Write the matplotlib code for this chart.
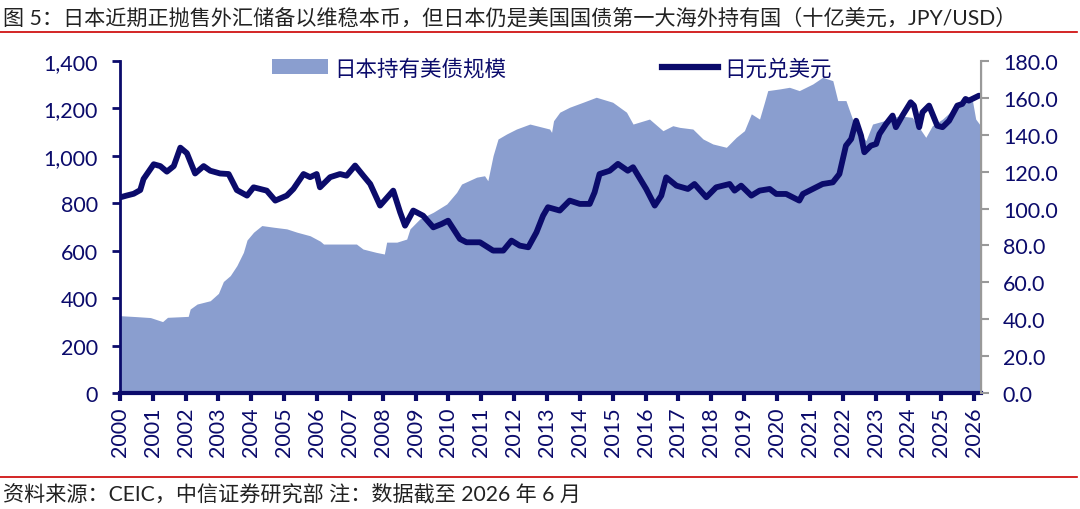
import matplotlib
matplotlib.use('Agg')
from matplotlib import pyplot as plt
from matplotlib.ticker import FuncFormatter, MultipleLocator
from matplotlib.lines import Line2D
from matplotlib.patches import Patch
import numpy as np

plt.rcParams['font.family'] = ['Lato', 'Noto Sans CJK SC', 'DejaVu Sans']

# Japan holdings of US Treasuries (bn USD)
hold_t = [2000.00, 2000.50, 2000.93, 2001.30, 2001.45, 2002.08, 2002.14, 2002.35, 2002.75, 2003.00,
          2003.15, 2003.36, 2003.56, 2003.76, 2003.87, 2004.07, 2004.32, 2004.68, 2005.08, 2005.39,
          2005.79, 2006.10, 2006.20, 2006.80, 2007.20, 2007.40, 2007.80, 2008.05, 2008.12, 2008.43,
          2008.73, 2008.83, 2009.13, 2009.54, 2009.95, 2010.25, 2010.40, 2010.86, 2011.10, 2011.20,
          2011.36, 2011.51, 2011.77, 2012.07, 2012.48, 2012.88, 2013.08, 2013.14, 2013.20, 2013.39,
          2013.69, 2014.10, 2014.50, 2015.00, 2015.42, 2015.62, 2016.12, 2016.53, 2016.83, 2017.04,
          2017.44, 2017.75, 2018.05, 2018.46, 2018.76, 2019.01, 2019.22, 2019.47, 2019.62, 2019.72,
          2020.08, 2020.38, 2020.68, 2021.09, 2021.39, 2021.70, 2021.85, 2022.10, 2022.30, 2022.51,
          2022.71, 2022.91, 2023.32, 2023.72, 2024.12, 2024.53, 2024.73, 2025.04, 2025.44, 2025.74,
          2025.95, 2026.05, 2026.20]
hold_v = [326, 322, 318, 301, 319, 323, 354, 375, 389, 420,
          470, 495, 537, 593, 645, 678, 706, 699, 692, 678,
          663, 640, 628, 628, 628, 607, 593, 586, 636, 636,
          649, 692, 734, 762, 797, 846, 881, 910, 916, 895,
          1001, 1071, 1092, 1113, 1134, 1120, 1113, 1099, 1148, 1184,
          1205, 1226, 1247, 1226, 1184, 1134, 1155, 1106, 1127, 1120,
          1113, 1071, 1050, 1036, 1078, 1106, 1177, 1155, 1226, 1275,
          1282, 1289, 1275, 1303, 1331, 1317, 1233, 1233, 1155, 1099,
          1064, 1134, 1150, 1169, 1162, 1078, 1127, 1155, 1205, 1240,
          1233, 1155, 1127]

# USD/JPY
fx_t = [2000.00, 2000.20, 2000.42, 2000.62, 2000.72, 2001.03, 2001.23, 2001.43, 2001.64, 2001.84,
        2002.04, 2002.29, 2002.55, 2002.75, 2003.05, 2003.31, 2003.56, 2003.87, 2004.07, 2004.27,
        2004.47, 2004.73, 2005.08, 2005.28, 2005.59, 2005.79, 2005.99, 2006.09, 2006.40, 2006.70,
        2006.90, 2007.16, 2007.41, 2007.62, 2007.92, 2008.32, 2008.53, 2008.68, 2008.93, 2009.23,
        2009.54, 2009.79, 2009.99, 2010.35, 2010.55, 2010.96, 2011.36, 2011.67, 2011.92, 2012.17,
        2012.43, 2012.68, 2012.88, 2013.03, 2013.39, 2013.69, 2014.00, 2014.30, 2014.45, 2014.60,
        2014.91, 2015.16, 2015.46, 2015.62, 2016.02, 2016.28, 2016.48, 2016.63, 2016.94, 2017.29,
        2017.49, 2017.85, 2018.15, 2018.56, 2018.71, 2018.91, 2019.22, 2019.47, 2019.78, 2019.98,
        2020.28, 2020.68, 2020.79, 2021.09, 2021.39, 2021.70, 2021.90, 2022.10, 2022.26, 2022.41,
        2022.56, 2022.66, 2022.86, 2023.02, 2023.12, 2023.32, 2023.52, 2023.62, 2023.82, 2024.07,
        2024.17, 2024.33, 2024.43, 2024.63, 2024.88, 2025.04, 2025.24, 2025.49, 2025.64, 2025.74,
        2025.84, 2026.15]
fx_v = [106.0, 107.0, 108.0, 110.0, 116.0, 124.0, 123.0, 120.0, 123.0, 133.0,
        130.0, 119.0, 123.0, 120.5, 119.0, 118.7, 110.0, 107.0, 111.5, 110.6,
        109.7, 104.3, 107.0, 110.6, 118.7, 117.0, 118.7, 111.5, 117.0, 118.7,
        117.8, 123.3, 117.8, 113.3, 101.6, 109.7, 98.0, 90.7, 98.9, 96.1,
        89.8, 91.6, 93.4, 83.5, 81.7, 81.7, 77.2, 77.2, 82.6, 79.9,
        79.0, 87.1, 96.1, 100.7, 98.9, 104.3, 102.5, 102.5, 108.8, 118.7,
        120.5, 124.2, 120.5, 122.4, 110.6, 101.6, 107.0, 116.9, 112.4, 110.6,
        113.3, 106.1, 111.5, 113.3, 109.7, 112.4, 107.0, 109.7, 110.6, 107.9,
        107.9, 104.3, 107.9, 110.6, 113.3, 114.2, 118.7, 134.1, 137.7, 147.6,
        139.5, 130.5, 134.1, 135.0, 140.4, 145.8, 150.4, 144.1, 150.4, 157.6,
        155.8, 144.1, 152.2, 155.8, 144.9, 144.1, 147.6, 155.8, 156.7, 159.4,
        158.5, 161.2]

years = list(range(2000, 2027))

title = '图 5：日本近期正抛售外汇储备以维稳本币，但日本仍是美国国债第一大海外持有国（十亿美元，JPY/USD）'
source = '资料来源：CEIC，中信证券研究部 注：数据截至 2026 年 6 月'

navy = '#0b0b6b'
fill_c = '#8a9ecf'

fig = plt.figure(figsize=(10.8, 5.1), dpi=100)
ax = fig.add_axes([0.111, 0.2275, 0.797, 0.651])
ax2 = ax.twinx()

ax.fill_between(hold_t, 0, hold_v, color=fill_c, lw=0)
ax2.plot(fx_t, fx_v, color=navy, lw=4.2, solid_capstyle='round', solid_joinstyle='round')

ax.set_xlim(2000, 2026.2)
ax.set_ylim(0, 1400)
ax2.set_ylim(0, 180)
ax.yaxis.set_major_locator(MultipleLocator(200))
ax2.yaxis.set_major_locator(MultipleLocator(20))
ax.yaxis.set_major_formatter(FuncFormatter(lambda v, p: f'{v:,.0f}'))
ax2.yaxis.set_major_formatter(FuncFormatter(lambda v, p: f'{v:.1f}'))
ax.set_xticks(years)
ax.set_xticklabels([str(y) for y in years], rotation=90)

for a in (ax, ax2):
    a.spines['top'].set_visible(False)
ax.spines['left'].set_color(navy)
ax.spines['left'].set_linewidth(2)
ax.spines['bottom'].set_color(navy)
ax.spines['bottom'].set_linewidth(3)
ax2.spines['right'].set_color('#999999')
ax2.spines['right'].set_linewidth(1.5)
ax2.spines['left'].set_visible(False)
ax2.spines['bottom'].set_visible(False)

ax.tick_params(axis='y', colors=navy, labelsize=15.5, length=6, width=2, pad=10)
ax.tick_params(axis='x', colors=navy, labelsize=15.5, length=6, width=3, pad=4)
ax2.tick_params(axis='y', color='#999999', labelcolor=navy, labelsize=15.5, length=6, width=1.5, pad=10)

handles = [Patch(facecolor=fill_c, edgecolor='none'),
           Line2D([0], [0], color=navy, lw=4.5)]
ax.legend(handles, ['日本持有美债规模', '日元兑美元'], ncol=2, frameon=False,
          loc='center', bbox_to_anchor=(0.502, 0.979), fontsize=15.5,
          labelcolor=navy, handlelength=2.6, handletextpad=0.3, columnspacing=7.2)

fig.text(0.003, 0.965, title, fontsize=15.2, color='#222222', va='center', ha='left')
fig.add_artist(Line2D([0.0, 0.997], [0.935, 0.935], color='#cc0000', lw=1.2))
fig.add_artist(Line2D([0.0, 0.997], [0.063, 0.063], color='#cc0000', lw=1.2))
fig.text(0.003, 0.031, source, fontsize=15.2, color='#222222', va='center', ha='left')

fig.savefig('out.png', dpi=100)
